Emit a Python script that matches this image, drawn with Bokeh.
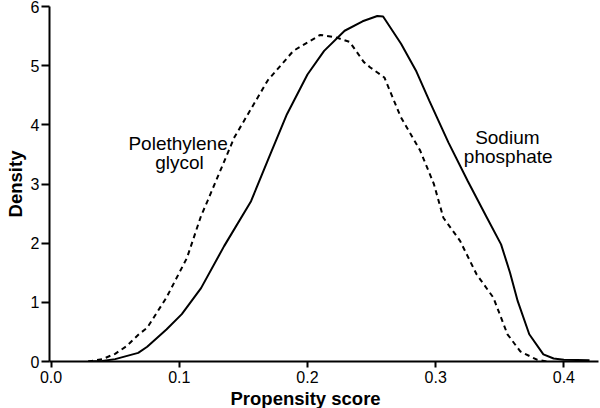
from bokeh.plotting import figure
from bokeh.models import Label, FixedTicker, NumeralTickFormatter, Range1d
from bokeh.embed import file_html
from bokeh.resources import INLINE

# Sodium phosphate (solid)
sp_x = [0.029, 0.04, 0.05, 0.068, 0.075, 0.09, 0.102, 0.117, 0.135, 0.156, 0.17, 0.184,
        0.2, 0.213, 0.229, 0.243, 0.2545, 0.259, 0.273, 0.285, 0.295, 0.31, 0.325, 0.34,
        0.351, 0.358, 0.364, 0.373, 0.384, 0.392, 0.40, 0.42]
sp_y = [0.0, 0.01, 0.04, 0.146, 0.25, 0.54, 0.80, 1.24, 1.95, 2.71, 3.45, 4.18,
        4.85, 5.25, 5.59, 5.75, 5.84, 5.83, 5.37, 4.9, 4.41, 3.7, 3.05, 2.43,
        1.98, 1.5, 1.02, 0.46, 0.12, 0.05, 0.03, 0.02]

# Polyethylene glycol (dashed)
peg_x = [0.029, 0.04, 0.05, 0.059, 0.0685, 0.075, 0.09, 0.106, 0.117, 0.122, 0.143, 0.169,
         0.189, 0.21, 0.222, 0.233, 0.244, 0.249, 0.26, 0.2726, 0.288, 0.2986, 0.306,
         0.319, 0.332, 0.345, 0.356, 0.366, 0.379, 0.387]
peg_y = [0.0, 0.04, 0.13, 0.26, 0.46, 0.57, 1.08, 1.75, 2.46, 2.71, 3.79, 4.75,
         5.25, 5.52, 5.48, 5.40, 5.06, 4.97, 4.80, 4.14, 3.56, 3.0, 2.43,
         2.04, 1.47, 1.08, 0.46, 0.17, 0.03, 0.0]

x_ticks = [0.0, 0.1, 0.2, 0.3, 0.4]
y_ticks = [0, 1, 2, 3, 4, 5, 6]

FONT = "Liberation Sans"

p = figure(width=600, height=408, output_backend="svg", toolbar_location=None,
           x_range=Range1d(-0.0012, 0.427), y_range=Range1d(0, 6),
           min_border_left=49, min_border_right=2, min_border_top=6, min_border_bottom=0,
           y_axis_label="Density", title="Propensity score", title_location="below")
p.outline_line_color = None
p.grid.visible = False
p.background_fill_color = "white"
p.border_fill_color = "white"

p.title.text_font = FONT
p.title.text_font_size = "18.5px"
p.title.text_font_style = "bold"
p.title.text_color = "black"
p.title.align = "left"
p.title.offset = 181
p.title.standoff = 0

p.line(sp_x, sp_y, line_color="black", line_width=2)
p.line(peg_x, peg_y, line_color="black", line_width=2, line_dash="5 4")

for ax in (p.xaxis[0], p.yaxis[0]):
    ax.axis_line_width = 2
    ax.axis_line_color = "black"
    ax.major_tick_line_width = 2
    ax.major_tick_line_color = "black"
    ax.minor_tick_line_color = None
    ax.major_tick_in = 0
    ax.major_label_text_font = FONT
    ax.major_label_text_font_size = "16px"
    ax.major_label_text_color = "black"
    ax.axis_label_text_font = FONT
    ax.axis_label_text_font_size = "18.5px"
    ax.axis_label_text_font_style = "bold"
    ax.axis_label_text_color = "black"

p.xaxis.ticker = FixedTicker(ticks=x_ticks)
p.xaxis.formatter = NumeralTickFormatter(format="0.0")
p.xaxis.major_tick_out = 6
p.xaxis.major_label_standoff = 3
p.yaxis.ticker = FixedTicker(ticks=y_ticks)
p.yaxis.major_tick_out = 8
p.yaxis.major_label_standoff = 2
p.yaxis.axis_label_standoff = 2

for txt, x, y in [("Polethylene", 0.0991, 3.68), ("glycol", 0.1002, 3.36),
                  ("Sodium", 0.3559, 3.79), ("phosphate", 0.3566, 3.47)]:
    p.add_layout(Label(x=x, y=y, text=txt, text_font=FONT, text_font_size="19px",
                       text_align="center", text_baseline="alphabetic", text_color="black"))

open("out.html", "w").write(file_html(p, INLINE))
